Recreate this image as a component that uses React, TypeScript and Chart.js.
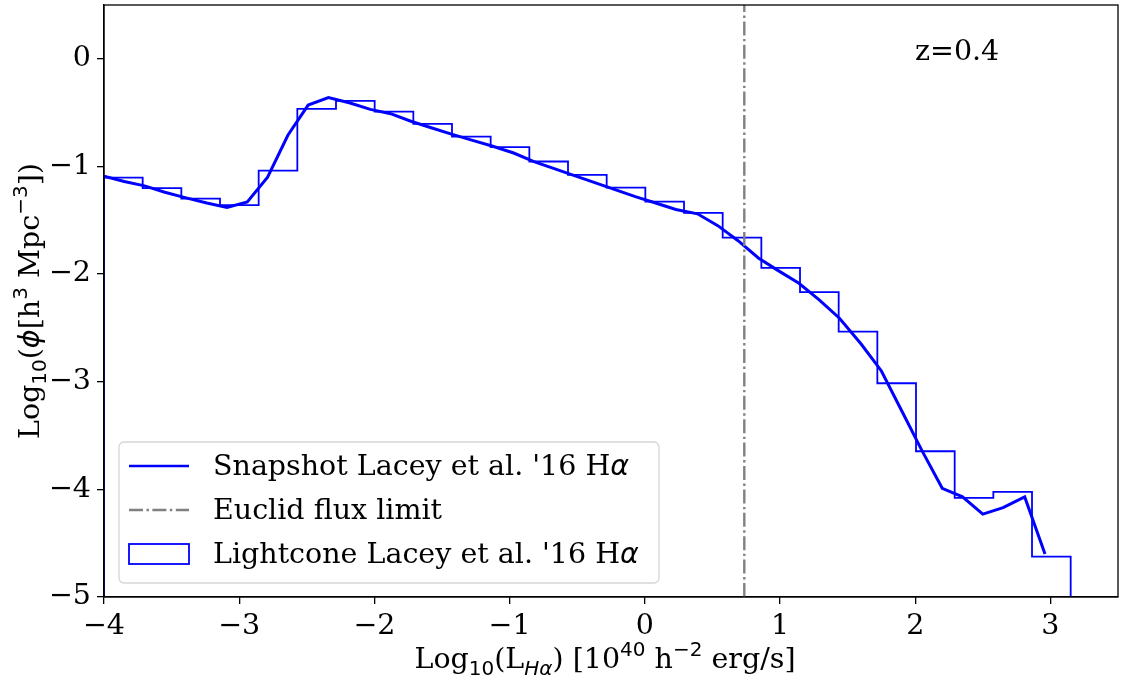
import React, { useEffect, useRef } from "react";
import { Chart, registerables } from "chart.js";

Chart.register(...registerables);

// ---- data ----
const xTicks = [-4, -3, -2, -1, 0, 1, 2, 3];
const yTicks = [-5, -4, -3, -2, -1, 0];

const snapX = [
  -4.0, -3.85, -3.7, -3.55, -3.4, -3.24, -3.09, -2.94, -2.79, -2.64,
  -2.49, -2.34, -2.18, -2.03, -1.88, -1.73, -1.58, -1.43, -1.28, -1.13,
  -0.97, -0.82, -0.67, -0.52, -0.37, -0.22, -0.07, 0.08, 0.23, 0.39,
  0.54, 0.69, 0.84, 0.99, 1.14, 1.29, 1.44, 1.6, 1.75, 1.9,
  2.05, 2.2, 2.35, 2.5, 2.65, 2.81, 2.96,
];
const snapY = [
  -1.09, -1.14, -1.18, -1.24, -1.29, -1.34, -1.38, -1.33, -1.1, -0.71,
  -0.43, -0.36, -0.41, -0.47, -0.51, -0.58, -0.64, -0.7, -0.755, -0.81,
  -0.875, -0.955, -1.02, -1.085, -1.15, -1.215, -1.28, -1.34, -1.4, -1.44,
  -1.55, -1.69, -1.85, -1.97, -2.085, -2.24, -2.41, -2.65, -2.9, -3.27,
  -3.64, -3.99, -4.07, -4.23, -4.17, -4.07, -4.6,
];

const binEdges = [
  -4.0, -3.714, -3.428, -3.142, -2.856, -2.57, -2.284, -1.998, -1.712, -1.426,
  -1.14, -0.854, -0.568, -0.282, 0.004, 0.29, 0.576, 0.862, 1.148, 1.434,
  1.72, 2.006, 2.292, 2.578, 2.864, 3.15,
];
const binValues = [
  -1.103, -1.202, -1.298, -1.36, -1.038, -0.465, -0.39, -0.49, -0.604, -0.722,
  -0.821, -0.954, -1.078, -1.196, -1.326, -1.431, -1.661, -1.942, -2.168, -2.534,
  -3.014, -3.646, -4.08, -4.024, -4.625,
];

const fluxLimit = 0.736;
const xRange = [-4, 3.5];
const yRange = [-5, 0.5];

const seriesLabels = [
  "Snapshot Lacey et al. '16 H",
  "Euclid flux limit",
  "Lightcone Lacey et al. '16 H",
];
const annotation = "z=0.4";

// ---- styling ----
const SERIF = '"DejaVu Serif", serif';
const FS = 28.5;
const SFS = 20;
const MAIN = `${FS}px ${SERIF}`;
const SUB = `${SFS}px "DejaVu Sans", sans-serif`;
const SUB_IT = `italic ${SFS}px "DejaVu Sans", sans-serif`;
const MATH_IT = `italic ${FS}px "DejaVu Sans", sans-serif`;
const BLUE = "#0000ff";
const GREY = "#808080";
const DASHDOT = [14, 3.5, 2.4, 3.5];

type Seg = { t: string; f: string; dy?: number };

function drawRich(ctx: CanvasRenderingContext2D, segs: Seg[], x: number, y: number, align: "left" | "center") {
  let total = 0;
  const widths = segs.map((s) => {
    ctx.font = s.f;
    const w = ctx.measureText(s.t).width;
    total += w;
    return w;
  });
  let cx = align === "center" ? x - total / 2 : x;
  ctx.textAlign = "left";
  ctx.textBaseline = "alphabetic";
  segs.forEach((s, i) => {
    ctx.font = s.f;
    ctx.fillText(s.t, cx, y + (s.dy || 0));
    cx += widths[i];
  });
}

const decorPlugin = {
  id: "decor",
  afterDraw(chart: any) {
    const ctx: CanvasRenderingContext2D = chart.ctx;
    const a = chart.chartArea;
    ctx.save();
    // frame
    ctx.strokeStyle = "#000";
    ctx.lineWidth = 1.3;
    ctx.strokeRect(a.left, a.top, a.right - a.left, a.bottom - a.top);
    ctx.fillStyle = "#000";

    // annotation
    ctx.font = MAIN;
    ctx.textAlign = "left";
    ctx.textBaseline = "alphabetic";
    ctx.fillText(annotation, 915, 60);

    // x title
    drawRich(
      ctx,
      [
        { t: "Log", f: MAIN },
        { t: "10", f: SUB, dy: 7 },
        { t: "(L", f: MAIN },
        { t: "Hα", f: SUB_IT, dy: 7 },
        { t: ") [10", f: MAIN },
        { t: "40", f: SUB, dy: -12 },
        { t: " h", f: MAIN },
        { t: "−2", f: SUB, dy: -12 },
        { t: " erg/s]", f: MAIN },
      ],
      (a.left + a.right) / 2 - 6,
      668,
      "center"
    );

    // y title
    ctx.save();
    ctx.translate(39, (a.top + a.bottom) / 2);
    ctx.rotate(-Math.PI / 2);
    drawRich(
      ctx,
      [
        { t: "Log", f: MAIN },
        { t: "10", f: SUB, dy: 7 },
        { t: "(", f: MAIN },
        { t: "ϕ", f: MATH_IT },
        { t: "[h", f: MAIN },
        { t: "3", f: SUB, dy: -12 },
        { t: " Mpc", f: MAIN },
        { t: "−3", f: SUB, dy: -12 },
        { t: "])", f: MAIN },
      ],
      0,
      0,
      "center"
    );
    ctx.restore();

    // legend
    const lx = 119, ly = 442, lw = 540, lh = 141, r = 5;
    ctx.beginPath();
    ctx.moveTo(lx + r, ly);
    ctx.arcTo(lx + lw, ly, lx + lw, ly + lh, r);
    ctx.arcTo(lx + lw, ly + lh, lx, ly + lh, r);
    ctx.arcTo(lx, ly + lh, lx, ly, r);
    ctx.arcTo(lx, ly, lx + lw, ly, r);
    ctx.closePath();
    ctx.fillStyle = "rgba(255,255,255,0.8)";
    ctx.fill();
    ctx.strokeStyle = "#d6d6d6";
    ctx.lineWidth = 1.3;
    ctx.stroke();

    const rows = [475, 519, 563];
    const sx0 = 129, sx1 = 189, tx = 213;
    // row 1 line
    ctx.strokeStyle = BLUE;
    ctx.lineWidth = 2.6;
    ctx.beginPath();
    ctx.moveTo(sx0, 466);
    ctx.lineTo(sx1, 466);
    ctx.stroke();
    // row 2 dashdot
    ctx.strokeStyle = GREY;
    ctx.lineWidth = 2.4;
    ctx.setLineDash(DASHDOT);
    ctx.beginPath();
    ctx.moveTo(sx0, 510);
    ctx.lineTo(sx1, 510);
    ctx.stroke();
    ctx.setLineDash([]);
    // row 3 rect
    ctx.strokeStyle = BLUE;
    ctx.lineWidth = 1.8;
    ctx.strokeRect(sx0, 544, sx1 - sx0, 20);

    ctx.fillStyle = "#000";
    drawRich(ctx, [{ t: seriesLabels[0], f: MAIN }, { t: "α", f: MATH_IT }], tx, rows[0], "left");
    drawRich(ctx, [{ t: seriesLabels[1], f: MAIN }], tx, rows[1], "left");
    drawRich(ctx, [{ t: seriesLabels[2], f: MAIN }, { t: "α", f: MATH_IT }], tx, rows[2], "left");
    ctx.restore();
  },
};

export default function App() {
  const ref = useRef<HTMLCanvasElement | null>(null);

  useEffect(() => {
    document.body.style.margin = "0";
    const canvas = ref.current;
    if (!canvas) return;

    const snapData = snapX.map((x, i) => ({ x, y: snapY[i] }));
    const histData: { x: number; y: number }[] = [{ x: binEdges[0], y: -10 }];
    binValues.forEach((v, i) => {
      histData.push({ x: binEdges[i], y: v });
      histData.push({ x: binEdges[i + 1], y: v });
    });
    histData.push({ x: binEdges[binEdges.length - 1], y: -10 });
    const limData = [
      { x: fluxLimit, y: -10 },
      { x: fluxLimit, y: 10 },
    ];

    const fmt = (v: any) => String(v).replace("-", "−");

    const chart = new Chart(canvas, {
      type: "line",
      data: {
        datasets: [
          {
            label: seriesLabels[1],
            data: limData,
            borderColor: GREY,
            borderWidth: 2.4,
            borderDash: DASHDOT,
            pointRadius: 0,
            order: 0,
          },
          {
            label: seriesLabels[0],
            data: snapData,
            borderColor: BLUE,
            borderWidth: 3,
            pointRadius: 0,
            order: 1,
          },
          {
            label: seriesLabels[2],
            data: histData,
            borderColor: BLUE,
            borderWidth: 1.8,
            pointRadius: 0,
            order: 2,
          },
        ],
      },
      options: {
        responsive: false,
        animation: false,
        devicePixelRatio: 1,
        layout: { padding: { top: 5, right: 8, left: 0, bottom: 0 } },
        plugins: { legend: { display: false }, tooltip: { enabled: false } },
        elements: { line: { tension: 0, borderJoinStyle: "miter" } },
        scales: {
          x: {
            type: "linear",
            min: xRange[0],
            max: xRange[1],
            afterBuildTicks: (s: any) => {
              s.ticks = xTicks.map((v) => ({ value: v }));
            },
            afterFit: (s: any) => {
              s.height = 84;
              s.paddingLeft = 0;
              s.paddingRight = 0;
              s.paddingTop = 0;
              s.paddingBottom = 0;
            },
            ticks: {
              autoSkip: false,
              maxRotation: 0,
              color: "#000",
              font: { family: SERIF, size: FS },
              padding: 5,
              callback: fmt,
            },
            grid: { drawOnChartArea: false, drawTicks: true, tickLength: 7, color: "#000", lineWidth: 1.3 },
            border: { display: true, color: "#000", width: 1.3 },
          },
          y: {
            type: "linear",
            min: yRange[0],
            max: yRange[1],
            afterBuildTicks: (s: any) => {
              s.ticks = yTicks.map((v) => ({ value: v }));
            },
            afterFit: (s: any) => {
              s.width = 104;
              s.paddingLeft = 0;
              s.paddingRight = 0;
              s.paddingTop = 0;
              s.paddingBottom = 0;
            },
            ticks: {
              autoSkip: false,
              color: "#000",
              font: { family: SERIF, size: FS },
              padding: 6,
              callback: fmt,
            },
            grid: { drawOnChartArea: false, drawTicks: true, tickLength: 7, color: "#000", lineWidth: 1.3 },
            border: { display: true, color: "#000", width: 1.3 },
          },
        },
      },
      plugins: [decorPlugin],
    });
    return () => chart.destroy();
  }, []);

  return (
    <div style={{ position: "absolute", left: 0, top: 0, width: 1126, height: 681, background: "#fff" }}>
      <canvas ref={ref} width={1126} height={681} style={{ display: "block" }} />
    </div>
  );
}
